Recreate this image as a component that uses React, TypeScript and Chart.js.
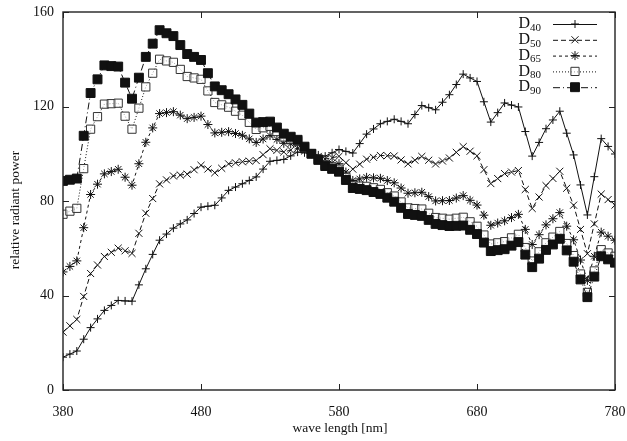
import React, { useEffect, useRef } from "react";
import { Chart, registerables } from "chart.js";
import { drawPoint } from "chart.js/helpers";

Chart.register(...registerables);

const wavelengths = [
  380, 385, 390, 395, 400, 405, 410, 415, 420, 425,
  430, 435, 440, 445, 450, 455, 460, 465, 470, 475,
  480, 485, 490, 495, 500, 505, 510, 515, 520, 525,
  530, 535, 540, 545, 550, 555, 560, 565, 570, 575,
  580, 585, 590, 595, 600, 605, 610, 615, 620, 625,
  630, 635, 640, 645, 650, 655, 660, 665, 670, 675,
  680, 685, 690, 695, 700, 705, 710, 715, 720, 725,
  730, 735, 740, 745, 750, 755, 760, 765, 770, 775,
  780,
];

const d40 = [
  13.9, 15.2, 16.5, 21.5, 26.4, 30.1, 33.7, 35.8, 37.9, 37.7,
  37.6, 44.5, 51.3, 57.4, 63.4, 66.0, 68.5, 70.3, 72.0, 74.7,
  77.4, 77.8, 78.2, 81.3, 84.5, 85.9, 87.3, 88.7, 90.2, 93.5,
  96.8, 97.2, 97.6, 99.1, 100.7, 100.4, 100.0, 99.5, 99.0, 100.4,
  101.8, 101.0, 100.3, 104.3, 108.3, 110.5, 112.7, 113.7, 114.6, 113.7,
  112.7, 116.6, 120.4, 119.5, 118.6, 121.8, 125.0, 129.3, 133.7, 132.1,
  130.6, 122.0, 113.4, 117.4, 121.5, 120.6, 119.8, 109.4, 99.0, 104.8,
  110.6, 114.3, 118.0, 108.7, 99.5, 86.8, 74.1, 90.3, 106.4, 103.1,
  99.9,
];

const d50 = [
  24.49, 27.18, 29.87, 39.59, 49.31, 52.91, 56.51, 58.27, 60.03, 58.93,
  57.82, 66.32, 74.82, 81.04, 87.25, 88.93, 90.61, 90.99, 91.37, 93.24,
  95.11, 93.54, 91.96, 93.84, 95.72, 96.17, 96.61, 96.87, 97.13, 99.61,
  102.1, 101.43, 100.75, 101.54, 102.32, 101.16, 100.0, 98.87, 97.74, 98.33,
  98.92, 96.21, 93.5, 95.59, 97.69, 98.48, 99.27, 99.16, 99.04, 97.38,
  95.72, 97.29, 98.86, 97.26, 95.67, 96.93, 98.19, 100.6, 103.0, 101.07,
  99.13, 93.26, 87.38, 89.49, 91.6, 92.25, 92.89, 84.87, 76.85, 81.68,
  86.51, 89.55, 92.58, 85.4, 78.23, 67.96, 57.69, 70.31, 82.92, 80.6,
  78.27,
];

const d65 = [
  49.98, 52.31, 54.65, 68.7, 82.75, 87.12, 91.49, 92.46, 93.43, 90.06,
  86.68, 95.77, 104.86, 110.94, 117.01, 117.41, 117.81, 116.34, 114.86, 115.39,
  115.92, 112.37, 108.81, 109.08, 109.35, 108.58, 107.8, 106.3, 104.79, 106.24,
  107.69, 106.05, 104.41, 104.23, 104.05, 102.02, 100.0, 98.17, 96.33, 96.06,
  95.79, 92.24, 88.69, 89.35, 90.01, 89.8, 89.6, 88.65, 87.7, 85.49,
  83.29, 83.49, 83.7, 81.86, 80.03, 80.12, 80.21, 81.25, 82.28, 80.28,
  78.28, 74.0, 69.72, 70.67, 71.61, 72.98, 74.35, 67.98, 61.6, 65.74,
  69.89, 72.49, 75.09, 69.34, 63.59, 55.01, 46.42, 56.61, 66.81, 65.09,
  63.38,
];

const d80 = [
  74.4, 75.7, 76.9, 93.7, 110.4, 115.7, 121.0, 121.2, 121.4, 115.9,
  110.4, 119.3, 128.3, 134.1, 140.0, 139.3, 138.7, 135.7, 132.7, 132.1,
  131.5, 126.6, 121.7, 120.7, 119.7, 118.0, 116.3, 113.3, 110.3, 111.0,
  111.6, 109.4, 107.1, 106.2, 105.3, 102.6, 100.0, 97.7, 95.3, 94.4,
  93.5, 90.0, 86.4, 86.3, 86.2, 85.6, 84.9, 83.5, 82.1, 79.6,
  77.1, 76.8, 76.6, 74.8, 73.0, 72.7, 72.3, 72.7, 73.1, 71.2,
  69.3, 65.6, 61.8, 62.3, 62.8, 64.4, 65.9, 60.3, 54.6, 58.5,
  62.3, 64.7, 67.1, 62.0, 56.9, 49.1, 41.3, 50.4, 59.4, 58.0,
  56.6,
];

const d90 = [
  88.5, 89.0, 89.5, 107.6, 125.7, 131.5, 137.4, 137.1, 136.9, 130.1,
  123.3, 132.2, 141.0, 146.6, 152.3, 151.0, 149.8, 146.0, 142.2, 141.0,
  139.7, 134.1, 128.5, 126.9, 125.2, 123.0, 120.7, 117.0, 113.2, 113.4,
  113.6, 111.1, 108.5, 107.2, 105.9, 103.0, 100.0, 97.4, 94.8, 93.6,
  92.4, 88.9, 85.5, 85.1, 84.6, 83.8, 83.0, 81.4, 79.7, 77.1,
  74.5, 74.1, 73.7, 72.0, 70.3, 69.8, 69.4, 69.5, 69.6, 67.8,
  66.0, 62.4, 58.8, 59.2, 59.6, 61.1, 62.6, 57.3, 52.0, 55.6,
  59.3, 61.6, 64.0, 59.1, 54.3, 46.8, 39.3, 48.0, 56.6, 55.3,
  53.9,
];

const seriesSubscripts = ["40", "50", "65", "80", "90"];
const seriesValues = [d40, d50, d65, d80, d90];
const xTicks = [380, 480, 580, 680, 780];
const yTicks = [0, 40, 80, 120, 160];
const xTitle = "wave length [nm]";
const yTitle = "relative radiant power";

const FONT = "'Liberation Serif', 'Times New Roman', serif";

type Style = {
  dash: number[];
  pointStyle: string;
  radius: number;
  fill: string;
  border: string;
};

const styles: Style[] = [
  { dash: [], pointStyle: "cross", radius: 4, fill: "rgba(0,0,0,0)", border: "#111" },
  { dash: [5, 3], pointStyle: "crossRot", radius: 5, fill: "rgba(0,0,0,0)", border: "#111" },
  { dash: [3, 3], pointStyle: "star", radius: 4.5, fill: "rgba(0,0,0,0)", border: "#111" },
  { dash: [1, 2], pointStyle: "rect", radius: 5.8, fill: "rgba(255,255,255,0.6)", border: "#333" },
  { dash: [7, 3, 1, 3], pointStyle: "rect", radius: 6.3, fill: "#111", border: "#111" },
];

const framePlugin = {
  id: "gnuFrame",
  afterDraw(chart: any) {
    const { ctx, chartArea } = chart;
    const xs = chart.scales.x;
    const ys = chart.scales.y;
    ctx.save();
    ctx.strokeStyle = "#222";
    ctx.lineWidth = 1.4;
    ctx.setLineDash([]);
    ctx.strokeRect(chartArea.left, chartArea.top, chartArea.right - chartArea.left, chartArea.bottom - chartArea.top);
    ctx.lineWidth = 1;
    const tl = 6;
    ctx.beginPath();
    xTicks.forEach((v) => {
      const px = Math.round(xs.getPixelForValue(v)) + 0.5;
      ctx.moveTo(px, chartArea.bottom);
      ctx.lineTo(px, chartArea.bottom - tl);
      ctx.moveTo(px, chartArea.top);
      ctx.lineTo(px, chartArea.top + tl);
    });
    yTicks.forEach((v) => {
      const py = Math.round(ys.getPixelForValue(v)) + 0.5;
      ctx.moveTo(chartArea.left, py);
      ctx.lineTo(chartArea.left + tl, py);
      ctx.moveTo(chartArea.right, py);
      ctx.lineTo(chartArea.right - tl, py);
    });
    ctx.stroke();

    // axis titles
    ctx.fillStyle = "#111";
    ctx.font = `13.5px ${FONT}`;
    ctx.textAlign = "center";
    ctx.textBaseline = "middle";
    ctx.fillText(xTitle, (chartArea.left + chartArea.right) / 2 + 1, 428);
    ctx.save();
    ctx.translate(15, (chartArea.top + chartArea.bottom) / 2 + 9);
    ctx.rotate(-Math.PI / 2);
    ctx.fillText(yTitle, 0, 0);
    ctx.restore();

    // legend (gnuplot style, top right inside)
    const textRight = 541;
    const lineL = 553;
    const lineR = 597;
    seriesSubscripts.forEach((sub, i) => {
      const y = 24 + i * 15.8;
      const st = styles[i];
      ctx.fillStyle = "#111";
      ctx.textBaseline = "middle";
      ctx.font = `11px ${FONT}`;
      const sw = ctx.measureText(sub).width;
      ctx.textAlign = "left";
      ctx.fillText(sub, textRight - sw, y + 4);
      ctx.font = `16px ${FONT}`;
      ctx.textAlign = "right";
      ctx.fillText("D", textRight - sw, y);
      ctx.strokeStyle = "#111";
      ctx.lineWidth = 1;
      ctx.setLineDash(st.dash);
      ctx.beginPath();
      ctx.moveTo(lineL, y + 0.5);
      ctx.lineTo(lineR, y + 0.5);
      ctx.stroke();
      ctx.setLineDash([]);
      ctx.fillStyle = st.fill;
      ctx.strokeStyle = st.border;
      drawPoint(ctx, { pointStyle: st.pointStyle as any, radius: st.radius, rotation: 0, borderWidth: 1 }, (lineL + lineR) / 2, y);
    });
    ctx.restore();
  },
};

export default function App() {
  const canvasRef = useRef<HTMLCanvasElement | null>(null);

  useEffect(() => {
    document.body.style.margin = "0";
    const canvas = canvasRef.current;
    if (!canvas) return;
    const datasets = seriesValues.map((vals, i) => ({
      label: "D" + seriesSubscripts[i],
      data: wavelengths.map((w, k) => ({ x: w, y: vals[k] })),
      borderColor: "#111",
      borderWidth: 1,
      borderDash: styles[i].dash,
      pointStyle: styles[i].pointStyle,
      pointRadius: styles[i].radius,
      pointBorderWidth: 1,
      pointBorderColor: styles[i].border,
      pointBackgroundColor: styles[i].fill,
      fill: false,
      tension: 0,
      order: 4 - i,
    }));

    const chart = new Chart(canvas, {
      type: "line",
      data: { datasets: datasets as any },
      options: {
        animation: false,
        responsive: false,
        maintainAspectRatio: false,
        events: [],
        layout: { padding: { top: 12, right: 12, left: 0, bottom: 0 } },
        plugins: {
          legend: { display: false },
          tooltip: { enabled: false },
        },
        scales: {
          x: {
            type: "linear",
            min: 380,
            max: 780,
            afterBuildTicks: (scale: any) => {
              scale.ticks = xTicks.map((v) => ({ value: v }));
            },
            afterFit: (scale: any) => {
              scale.height = 51;
              scale.paddingLeft = 0;
              scale.paddingRight = 0;
            },
            grid: { display: false, drawTicks: false },
            border: { display: false },
            ticks: {
              color: "#111",
              font: { family: FONT, size: 14 },
              padding: 14,
              maxRotation: 0,
              autoSkip: false,
            },
          },
          y: {
            type: "linear",
            min: 0,
            max: 160,
            afterBuildTicks: (scale: any) => {
              scale.ticks = yTicks.map((v) => ({ value: v }));
            },
            afterFit: (scale: any) => {
              scale.width = 63;
              scale.paddingTop = 0;
              scale.paddingBottom = 0;
            },
            grid: { display: false, drawTicks: false },
            border: { display: false },
            ticks: {
              color: "#111",
              font: { family: FONT, size: 14 },
              padding: 9,
              autoSkip: false,
            },
          },
        },
      },
      plugins: [framePlugin],
    });
    return () => chart.destroy();
  }, []);

  return (
    <div style={{ width: 627, height: 441 }}>
      <canvas ref={canvasRef} width={627} height={441} style={{ display: "block" }} />
    </div>
  );
}
